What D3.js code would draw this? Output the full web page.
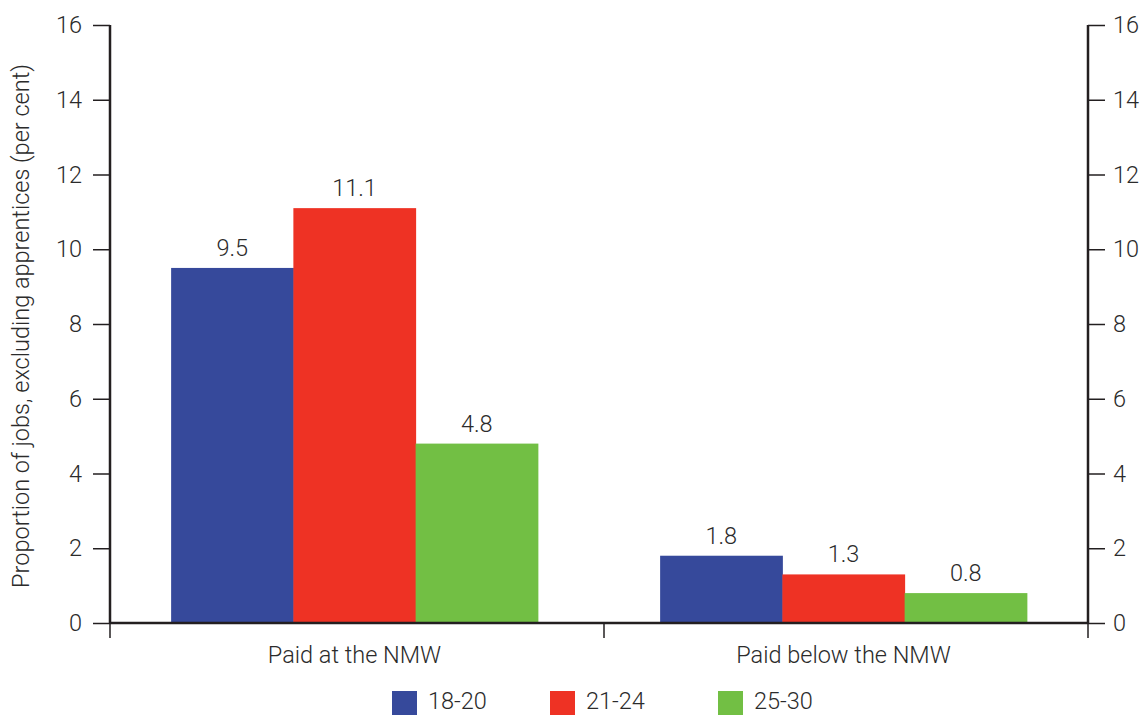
<!DOCTYPE html>
<html><head><meta charset="utf-8">
<script src="https://cdn.jsdelivr.net/npm/d3@7"></script>
<style>body{margin:0;background:#fff;} text{font-family:Roboto,"Liberation Sans",Arial,sans-serif;font-weight:300;fill:#2b2b2b;}</style>
</head><body>
<svg id="c" width="1142" height="715"></svg>
<script>
const categories = ["Paid at the NMW", "Paid below the NMW"];
const series = ["18-20", "21-24", "25-30"];
const values18_20 = [9.5, 1.8];
const values21_24 = [11.1, 1.3];
const values25_30 = [4.8, 0.8];
const colors = ["#36499b", "#ee3224", "#72bf44"];
const yTicks = [0, 2, 4, 6, 8, 10, 12, 14, 16];
const yTitle = "Proportion of jobs, excluding apprentices (per cent)";

const FS = 23.5;
const allValues = [values18_20, values21_24, values25_30];
const svg = d3.select("#c");
const L = 110, R = 1088, T = 25, B = 623;
const x0 = d3.scaleBand().domain(categories).range([L, R]).paddingInner(0).paddingOuter(0);
const x1 = d3.scaleBand().domain(series).range([0, x0.bandwidth()]).paddingInner(0).paddingOuter(0.5);
const y = d3.scaleLinear().domain([0, 16]).range([B, T]);

// bars
categories.forEach((c, ci) => {
  const g = svg.append("g").attr("transform", `translate(${x0(c)},0)`);
  series.forEach((s, si) => {
    const v = allValues[si][ci];
    g.append("rect").attr("x", x1(s)).attr("width", x1.bandwidth() + 0.5)
      .attr("y", y(v)).attr("height", y(0) - y(v)).attr("fill", colors[si]);
    g.append("text").attr("x", x1(s) + x1.bandwidth() / 2).attr("y", y(v) - 12)
      .attr("text-anchor", "middle").attr("font-size", FS).text(v.toFixed(1));
  });
});

// left axis
const la = svg.append("g").attr("transform", `translate(${L},0)`)
  .call(d3.axisLeft(y).tickValues(yTicks).tickSize(17).tickPadding(11));
// right axis
const ra = svg.append("g").attr("transform", `translate(${R},0)`)
  .call(d3.axisRight(y).tickValues(yTicks).tickSize(17).tickPadding(8));
[la, ra].forEach(a => {
  a.attr("font-family", null).attr("font-size", null);
  a.select(".domain").attr("stroke", "#231f20").attr("stroke-width", 2.5).attr("d", `M0,${T}V${B}`);
  a.selectAll(".tick line").attr("stroke", "#231f20").attr("stroke-width", 1.5);
  a.selectAll(".tick text").attr("font-size", FS).attr("fill", "#2b2b2b");
});

// x axis
const xa = svg.append("g").attr("transform", `translate(0,${B})`);
xa.append("line").attr("x1", L).attr("x2", R).attr("y1", 0).attr("y2", 0)
  .attr("stroke", "#231f20").attr("stroke-width", 2.5);
const boundaries = [x0(categories[0]), x0(categories[1]) + 5, x0(categories[1]) + x0.bandwidth()];
boundaries.forEach(b => xa.append("line").attr("x1", b).attr("x2", b).attr("y1", 0).attr("y2", 15)
  .attr("stroke", "#231f20").attr("stroke-width", 1.5));
categories.forEach(c => xa.append("text").attr("x", x0(c) + x0.bandwidth() / 2).attr("y", 40)
  .attr("text-anchor", "middle").attr("font-size", FS).text(c));

// y title
svg.append("text").attr("transform", `translate(29,${(T + B) / 2 + 2}) rotate(-90)`)
  .attr("text-anchor", "middle").attr("font-size", FS).text(yTitle);

// legend
const legX = [392, 550, 718];
series.forEach((s, i) => {
  svg.append("rect").attr("x", legX[i]).attr("y", 691).attr("width", 25).attr("height", 24).attr("fill", colors[i]);
  svg.append("text").attr("x", legX[i] + 36).attr("y", 709).attr("font-size", FS).text(s);
});
</script>
</body></html>
